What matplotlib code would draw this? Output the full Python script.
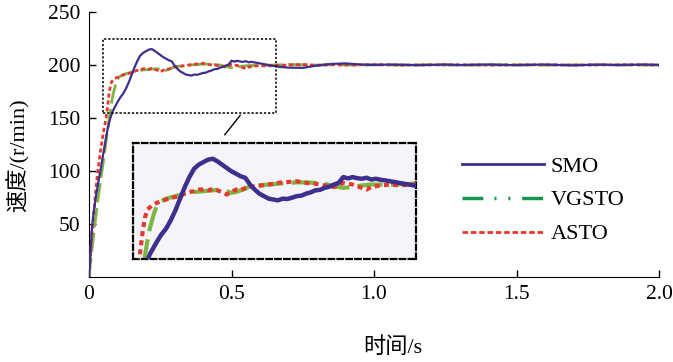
import matplotlib
matplotlib.use("Agg")
import matplotlib.pyplot as plt
from matplotlib.lines import Line2D

plt.rcParams['font.family'] = ['Liberation Serif', 'Noto Sans CJK SC']
plt.rcParams['font.size'] = 15.5

# ---------------- data ----------------
smo_t = [0.000, 0.005, 0.010, 0.015, 0.020, 0.025, 0.030, 0.035, 0.040, 0.045,
         0.050, 0.055, 0.060, 0.065, 0.070, 0.075, 0.080, 0.085, 0.090, 0.100,
         0.110, 0.120, 0.130, 0.140, 0.150, 0.160, 0.170, 0.180, 0.190, 0.200,
         0.210, 0.220, 0.230, 0.240, 0.250, 0.260, 0.270, 0.280, 0.290, 0.300,
         0.310, 0.320, 0.330, 0.340, 0.350, 0.360, 0.370, 0.380, 0.390, 0.400,
         0.410, 0.420, 0.430, 0.440, 0.450, 0.460, 0.470, 0.480, 0.490, 0.500,
         0.510, 0.520, 0.530, 0.540, 0.550, 0.560, 0.570, 0.580, 0.590, 0.600,
         0.620, 0.640, 0.660, 0.700, 0.750, 0.800, 0.850, 0.900, 0.950, 1.000,
         1.050, 1.100, 1.150, 1.200, 1.250, 1.300, 1.350, 1.400, 1.450, 1.500,
         1.550, 1.600, 1.650, 1.700, 1.750, 1.800, 1.850, 1.900, 1.950, 2.000]
smo_v = [0, 22, 45, 58, 68, 77, 85, 93, 100, 108,
         116, 124, 132, 139, 145, 150, 154, 157.5, 160, 165,
         169.5, 173, 178, 184, 191, 198, 204, 209, 211.5, 213,
         214.5, 215, 213.5, 211.5, 209.5, 207.5, 206, 204.5, 203.5, 199.5,
         196.5, 194, 192.5, 191, 190.5, 190, 191, 190.8, 191.6, 192.5,
         192.8, 194, 194.8, 196, 196.3, 197.5, 198.2, 199.5, 200.5, 204,
         203.2, 204, 203.3, 203, 203.6, 202.5, 203, 202.4, 202, 201.5,
         200.5, 199.5, 198.5, 197.5, 197.3, 199.5, 201, 201.5, 200.5, 200,
         200.4, 200.2, 199.8, 200.1, 200.4, 199.9, 200.2, 200.5, 200.1, 199.8,
         200.2, 200.4, 200.0, 199.7, 200.1, 200.3, 199.9, 200.2, 200.4, 200.0]

vg_t = [0.000, 0.010, 0.020, 0.030, 0.040, 0.050, 0.060, 0.065, 0.070, 0.075,
        0.080, 0.085, 0.090, 0.095, 0.100, 0.110, 0.120, 0.140, 0.160, 0.180,
        0.200, 0.220, 0.240, 0.250, 0.260, 0.270, 0.290, 0.300, 0.320, 0.340,
        0.360, 0.380, 0.400, 0.420, 0.440, 0.460, 0.480, 0.500, 0.520, 0.540,
        0.560, 0.580, 0.600, 0.650, 0.700, 0.750, 0.800, 0.850, 0.900, 0.950,
        1.000, 1.100, 1.200, 1.300, 1.400, 1.500, 1.600, 1.700, 1.800, 1.900, 2.000]
vg_v = [0, 25, 48, 70, 90, 108, 128, 138, 148, 157,
        166, 173, 178, 183, 186.5, 189.5, 191, 192.5, 194, 195,
        195.5, 196, 196.5, 195.5, 194.5, 195, 197, 198.5, 199, 199.5,
        200, 200.5, 200.8, 200.8, 200.5, 200, 198.5, 197.5, 198, 199,
        199.5, 199.5, 199.5, 200, 200.5, 200.2, 199.8, 200.3, 200.1, 199.9,
        200.2, 200.0, 200.3, 199.9, 200.1, 200.2, 199.9, 200.1, 200.3, 200.0, 200.1]

as_t = [0.000, 0.005, 0.010, 0.015, 0.020, 0.025, 0.030, 0.035, 0.040, 0.045,
        0.050, 0.055, 0.060, 0.065, 0.070, 0.075, 0.080, 0.090, 0.100, 0.110,
        0.120, 0.130, 0.140, 0.150, 0.160, 0.170, 0.180, 0.190, 0.200, 0.210,
        0.220, 0.230, 0.240, 0.250, 0.260, 0.270, 0.280, 0.290, 0.300, 0.320,
        0.340, 0.360, 0.380, 0.400, 0.420, 0.440, 0.460, 0.480, 0.500, 0.520,
        0.540, 0.550, 0.560, 0.580, 0.600, 0.620, 0.650, 0.700, 0.750, 0.800,
        0.850, 0.900, 1.000, 1.100, 1.200, 1.300, 1.400, 1.500, 1.600, 1.700,
        1.800, 1.900, 2.000]
as_v = [0, 20, 40, 55, 70, 85, 98, 108, 118, 127,
        136, 143, 150, 160, 172, 180, 184.5, 187, 188.5, 189.5,
        190.5, 191.5, 192, 193, 194, 195, 195.5, 196.5, 196.5, 196,
        196.8, 196, 195, 193.5, 195, 196.5, 196, 197.5, 198, 198.8,
        199.5, 200.5, 201, 201.5, 200.5, 200, 199, 198, 200.5, 199.5,
        197.5, 196.5, 198, 199, 199.5, 199, 199.5, 200, 200.4, 199.8,
        200.2, 200.0, 200.3, 199.9, 200.1, 200.2, 199.9, 200.1, 200.2, 199.9,
        200.1, 200.2, 200.0]

labels = ["SMO", "VGSTO", "ASTO"]
xticks = [0, 0.5, 1.0, 1.5, 2.0]
xticklabels = ["0", "0.5", "1.0", "1.5", "2.0"]
yticks = [50, 100, 150, 200, 250]
zoom_x = (0.049, 0.656)
zoom_y = (154.7, 224.5)

c_smo = "#3f2e8e"
c_vg = "#7cb644"
c_vg_leg = "#16964a"
c_as = "#e8382e"

# ---------------- figure ----------------
fig = plt.figure(figsize=(6.73, 3.62), dpi=100)
ax = fig.add_axes([89/673, 1-277/362, 570/673, 265/362])

ax.plot(vg_t, vg_v, color=c_vg, lw=2.0, dashes=(7, 2), zorder=2)
ax.plot(as_t, as_v, color=c_as, lw=2.0, dashes=(1.5, 1), zorder=3)
ax.plot(smo_t, smo_v, color=c_smo, lw=1.6, zorder=4)

ax.set_xlim(0, 2.0)
ax.set_ylim(0, 250)
ax.set_xticks(xticks)
ax.set_xticklabels(xticklabels)
ax.set_yticks(yticks)
ax.tick_params(direction='in', length=5, width=1, pad=6)
for s in ['top', 'right']:
    ax.spines[s].set_visible(False)

# zoom rectangle in main axes
ax.plot([zoom_x[0], zoom_x[1], zoom_x[1], zoom_x[0], zoom_x[0]],
        [zoom_y[0], zoom_y[0], zoom_y[1], zoom_y[1], zoom_y[0]],
        color='black', lw=1.1, ls=(0, (1.5, 1.2)), zorder=5)
ax.annotate("", xy=(0.47, 132), xytext=(0.537, zoom_y[0]),
            arrowprops=dict(arrowstyle='-', color='black', lw=1.0))

# inset
ins = ax.inset_axes([44/570, 18/265, 283/570, 116/265])
ins.set_facecolor("#f5f5f9")
ins.plot(vg_t, vg_v, color=c_vg, lw=3.0, dashes=(6, 2), zorder=2)
ins.plot(as_t, as_v, color=c_as, lw=3.0, dashes=(1.2, 1), zorder=3)
ins.plot(smo_t, smo_v, color=c_smo, lw=3.2, zorder=4)
ins.set_xlim(*zoom_x)
ins.set_ylim(*zoom_y)
ins.set_xticks([])
ins.set_yticks([])
for s in ins.spines.values():
    s.set_linestyle((0, (2.5, 1.5)))
    s.set_linewidth(1.6)
    s.set_color('black')

# legend
handles = [Line2D([], [], color=c_smo, lw=2.0),
           Line2D([], [], color=c_vg_leg, lw=2.5, dashes=(6, 3.2, 0.6, 3.4, 0.6, 3.4)),
           Line2D([], [], color=c_as, lw=2.0, dashes=(2, 1))]
ax.legend(handles, labels, loc='upper left', bbox_to_anchor=((462-89)/570, (277-156)/265),
          frameon=False, handlelength=3.7, handletextpad=0.3, labelspacing=0.6,
          borderpad=0, borderaxespad=0, fontsize=16)

fig.text(393/673, 1-348/362, "时间/s", ha='center', va='center', fontsize=16)
fig.text(18/673, 1-155/362, "速度/(r/min)", ha='center', va='center', rotation=90, fontsize=16)

fig.savefig("out.png", dpi=100)
